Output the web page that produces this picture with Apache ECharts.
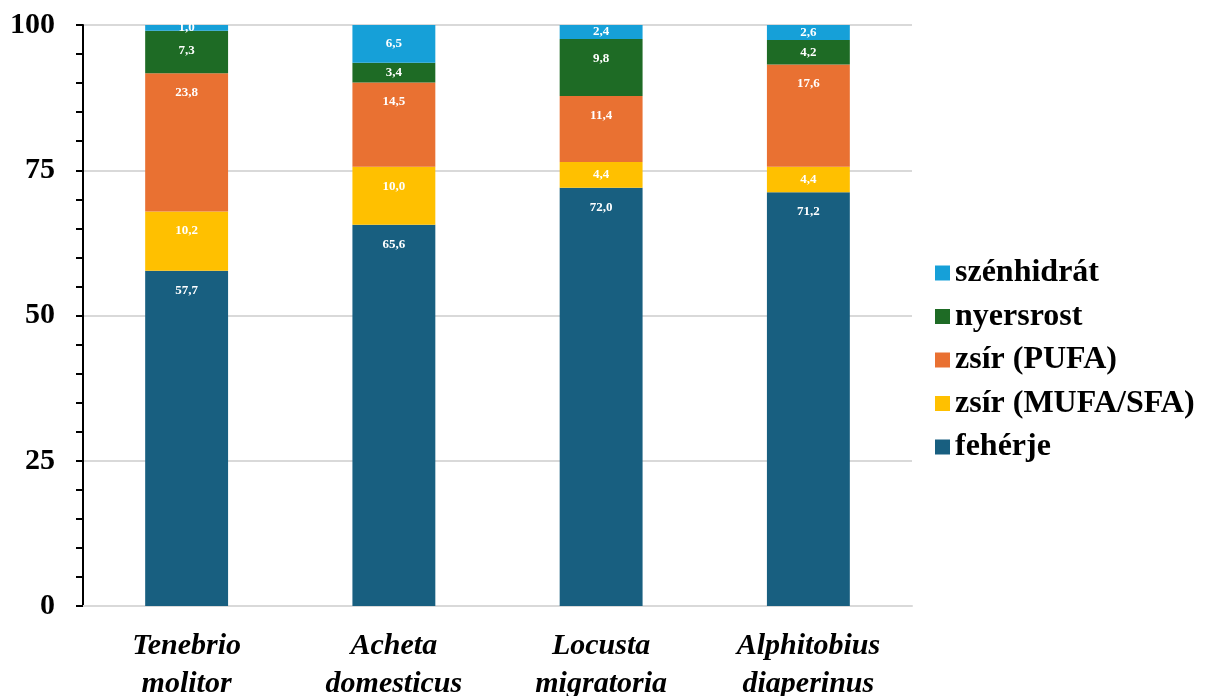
<!DOCTYPE html>
<html>
<head>
<meta charset="utf-8">
<script src="https://cdn.jsdelivr.net/npm/echarts@6/dist/echarts.min.js"></script>
<style>
  html, body { margin: 0; padding: 0; background: #fff; }
  #chart { width: 1205px; height: 696px; }
</style>
</head>
<body>
<div id="chart"></div>
<script>
// fajok (x tengely)
const categories = ["Tenebrio\nmolitor", "Acheta\ndomesticus", "Locusta\nmigratoria", "Alphitobius\ndiaperinus"];

// összetevők, alulról felfelé
const feherje = [57.7, 65.6, 72.0, 71.2];
const zsirMufa = [10.2, 10.0, 4.4, 4.4];
const zsirPufa = [23.8, 14.5, 11.4, 17.6];
const nyersrost = [7.3, 3.4, 9.8, 4.2];
const szenhidrat = [1.0, 6.5, 2.4, 2.6];

const yTicks = [0, 25, 50, 75, 100];

const FONT = "'Liberation Serif', 'Times New Roman', serif";

const seriesDefs = [
  { name: "fehérje", data: feherje, color: "#185f80" },
  { name: "zsír (MUFA/SFA)", data: zsirMufa, color: "#ffc000" },
  { name: "zsír (PUFA)", data: zsirPufa, color: "#e97132" },
  { name: "nyersrost", data: nyersrost, color: "#1e6b25" },
  { name: "szénhidrát", data: szenhidrat, color: "#16a0d8" },
];

// kis szeletnél középre, egyébként a szelet tetejére kerül a felirat
const makeData = (arr) =>
  arr.map((v) => ({
    value: v,
    label: v < 7 ? { position: "inside" } : { position: "insideTop", distance: 13 },
  }));

const chart = echarts.init(document.getElementById("chart"), null, { renderer: "canvas" });

chart.setOption({
  animation: false,
  backgroundColor: "#fff",
  grid: { left: 83, right: 293, top: 25, bottom: 90, containLabel: false, outerBoundsMode: "none" },
  legend: {
    orient: "vertical",
    left: 930,
    top: 250,
    icon: "rect",
    itemWidth: 15,
    itemHeight: 15,
    itemGap: 7.5,
    data: seriesDefs.map((s) => s.name).reverse(),
    textStyle: { fontFamily: FONT, fontSize: 32, fontWeight: "bold", color: "#000", lineHeight: 36 },
  },
  xAxis: {
    type: "category",
    data: categories,
    axisLine: { lineStyle: { color: "#d9d9d9", width: 2 } },
    axisTick: { show: false },
    axisLabel: {
      margin: 21,
      fontFamily: FONT,
      fontSize: 30,
      fontWeight: "bold",
      fontStyle: "italic",
      color: "#000",
      lineHeight: 38,
    },
  },
  yAxis: {
    type: "value",
    min: yTicks[0],
    max: yTicks[yTicks.length - 1],
    interval: 25,
    axisLine: { show: true, lineStyle: { color: "#000", width: 2 } },
    axisTick: { show: true, length: 7, lineStyle: { color: "#000", width: 2 } },
    minorTick: { show: true, splitNumber: 5, length: 7, lineStyle: { color: "#000", width: 2 } },
    splitLine: { lineStyle: { color: "#d9d9d9", width: 2 } },
    axisLabel: {
      margin: 28,
      fontFamily: FONT,
      fontSize: 30,
      fontWeight: "bold",
      color: "#000",
    },
  },
  series: seriesDefs.map((s) => ({
    name: s.name,
    type: "bar",
    stack: "total",
    barWidth: "40%",
    data: makeData(s.data),
    itemStyle: { color: s.color },
    label: {
      show: true,
      color: "#fff",
      fontFamily: FONT,
      fontSize: 13,
      fontWeight: "bold",
      formatter: (p) => p.value.toFixed(1).replace(".", ","),
    },
  })),
});
</script>
</body>
</html>
